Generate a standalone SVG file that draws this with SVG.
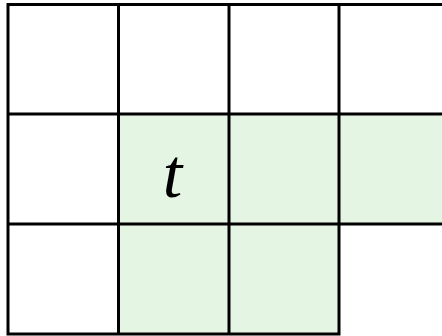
<svg xmlns="http://www.w3.org/2000/svg" width="442" height="336" viewBox="0 0 442 336">
<style>
.g{fill:#e4f5e3;stroke:none}
.l{stroke:#000;stroke-width:3;fill:none}
</style>
<rect width="442" height="336" fill="#fff"/>
<g id="cells">
<rect class="g" x="118.5" y="114" width="330" height="110"/>
<rect class="g" x="118.5" y="224" width="220.5" height="110"/>
</g>
<g id="grid">
<path class="l" d="M8,4.5V334M118.5,4.5V334M229,4.5V334M339,4.5V334M6.5,4.5H449M8,114H449M8,224H449M6.5,334H340.5"/>
</g>
<g id="label">
<text x="172.5" y="197" font-family="Liberation Serif, serif" font-style="italic" font-size="70" text-anchor="middle">t</text>
</g>
</svg>
